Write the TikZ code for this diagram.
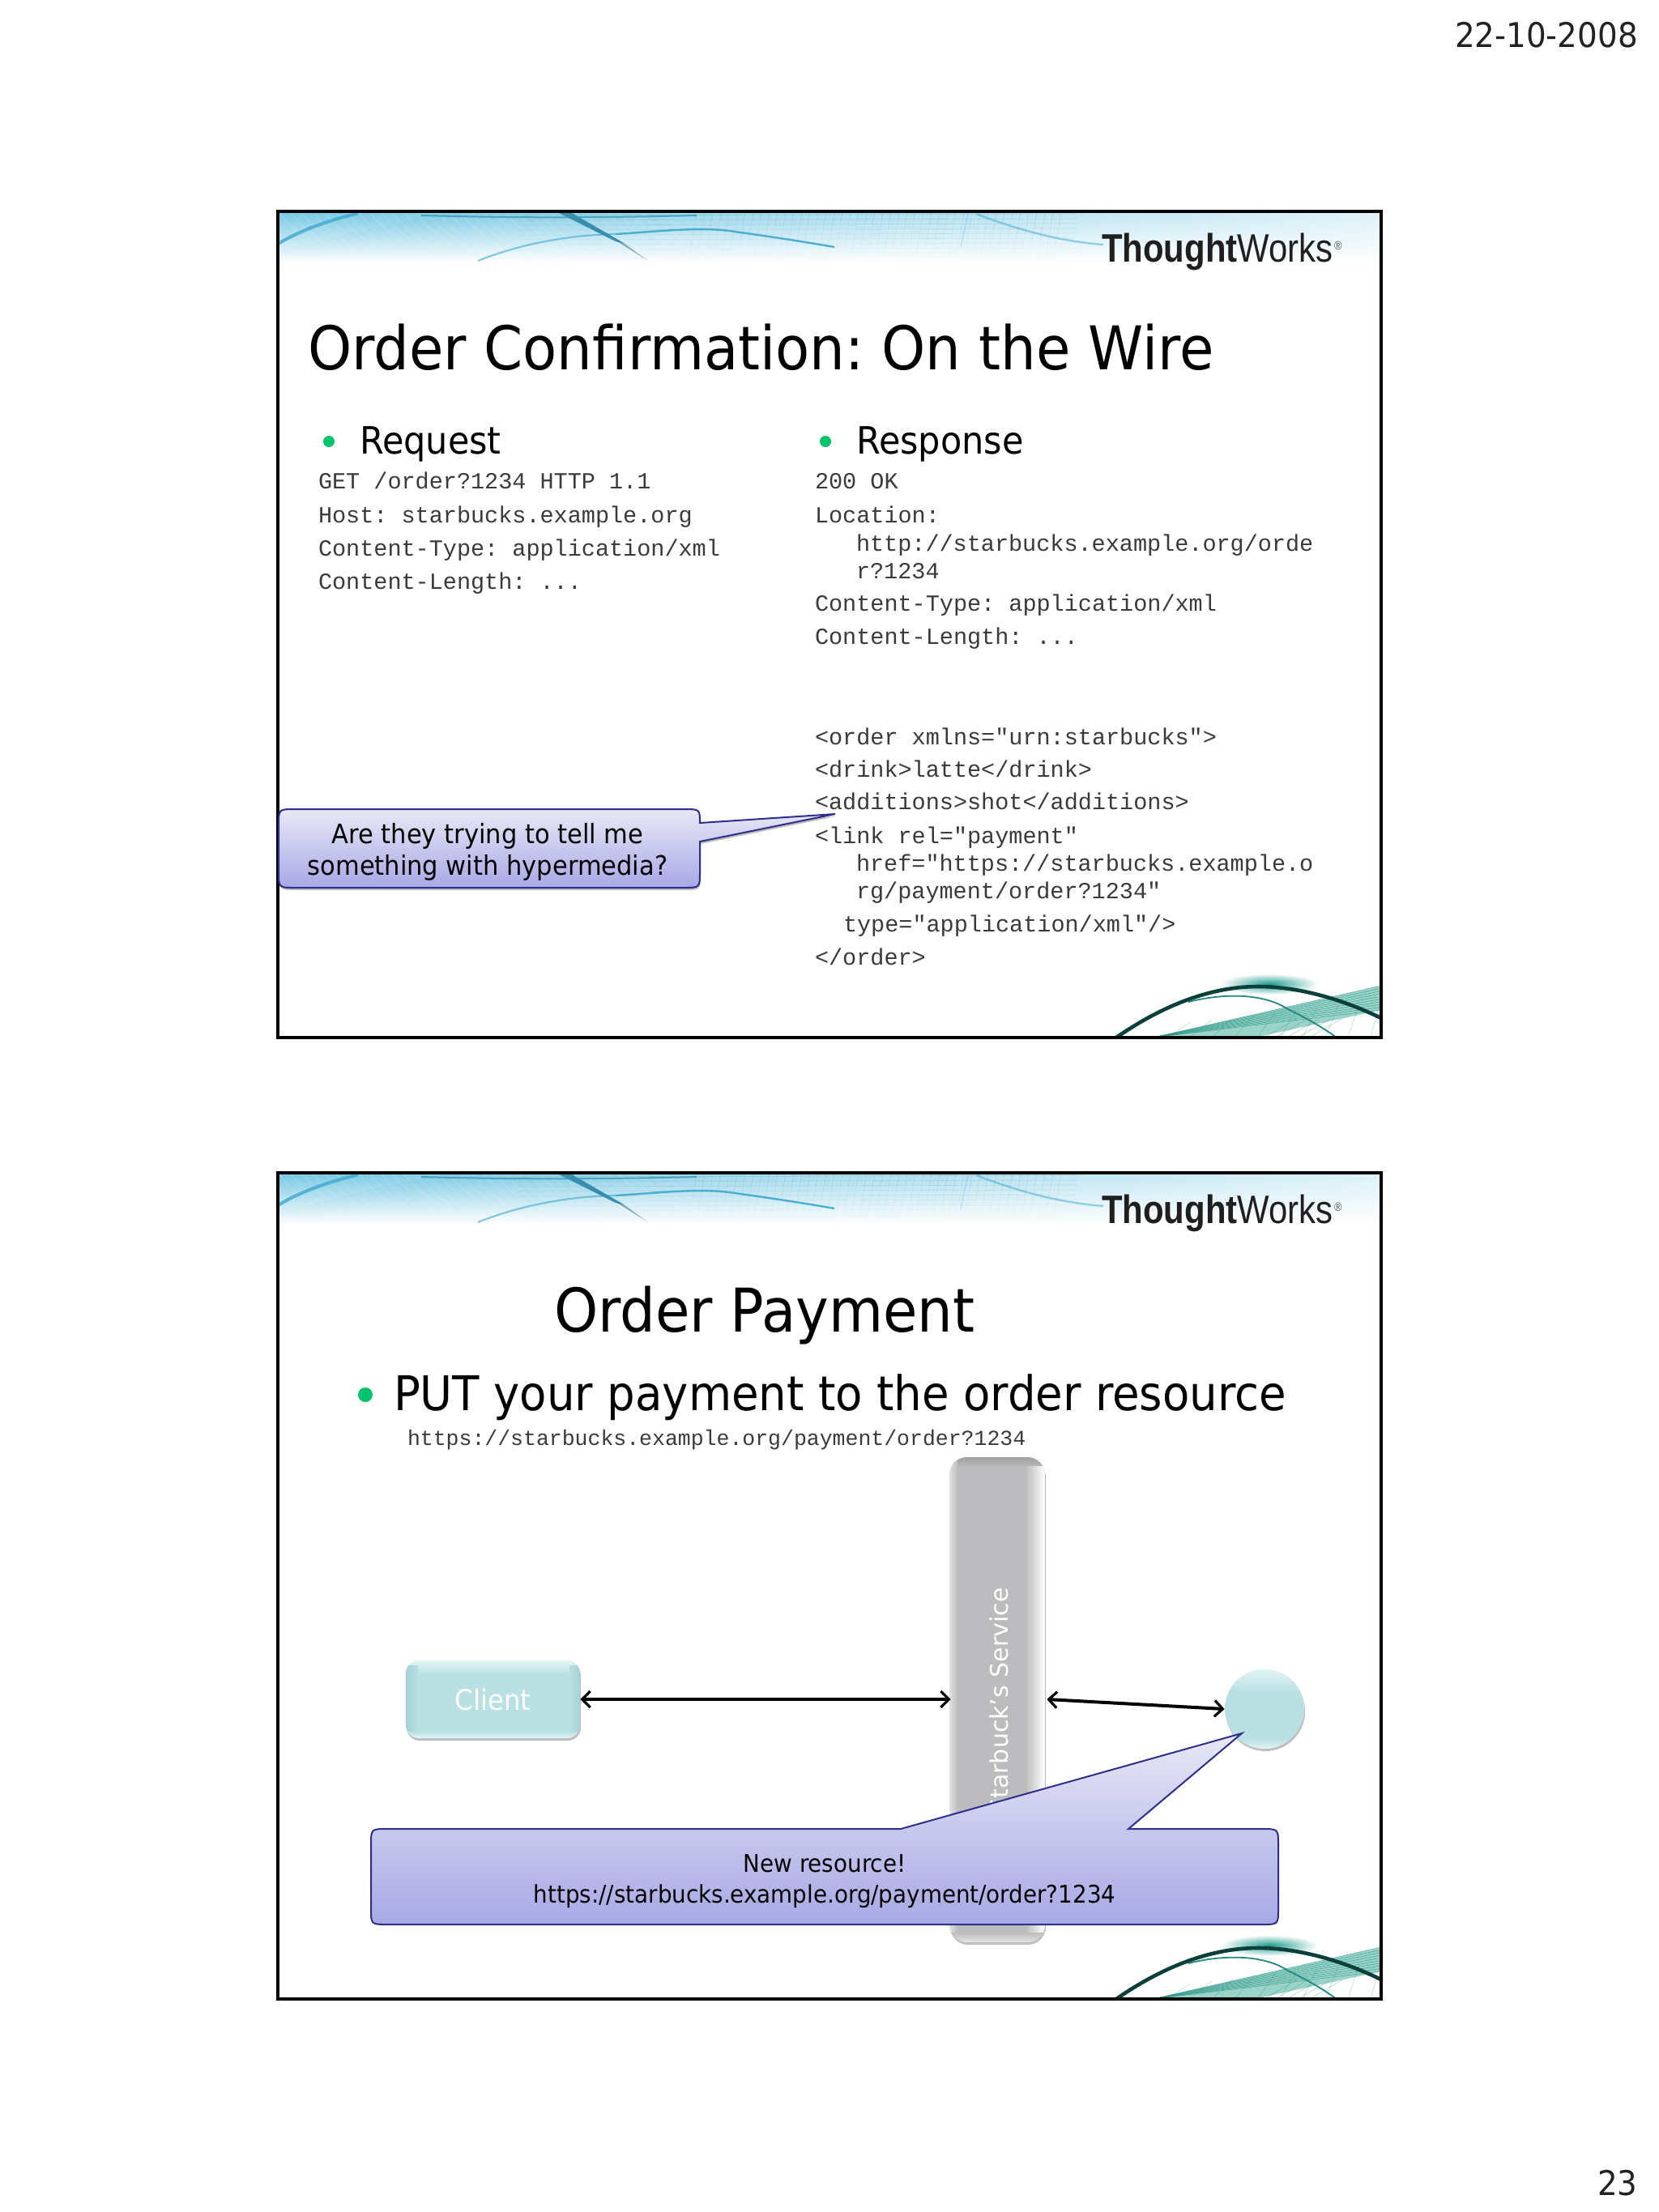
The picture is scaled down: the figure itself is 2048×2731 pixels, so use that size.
\documentclass[tikz,border=0pt]{standalone}
\usepackage{fontspec}
\usetikzlibrary{arrows.meta,shadows}
\newfontfamily\tah[FakeStretch=0.925]{DejaVu Sans}
\newfontfamily\verd{DejaVu Sans}
\newfontfamily\mon{Liberation Mono}
\newfontfamily\logof[FakeStretch=0.855]{Liberation Sans}
\newcommand\fsz[1]{\fontsize{\fpeval{#1*0.5}pt}{\fpeval{#1*0.6}pt}\selectfont}
\AtBeginDocument{\frenchspacing}
\definecolor{calloutline}{HTML}{2E2E8C}
\definecolor{calloutlow}{HTML}{A8A8E6}
\definecolor{callouthigh}{HTML}{E8E8F6}
\definecolor{greenbullet}{HTML}{00C46C}
\definecolor{tealbox}{HTML}{B9E0E3}
\definecolor{tealedge}{HTML}{E4F5F5}
\definecolor{tealdark}{HTML}{A6D2D6}
\definecolor{greybox}{HTML}{BCBCBE}
\definecolor{swoop}{HTML}{0B3F3A}
\definecolor{swoopthin}{HTML}{23897E}
\definecolor{glow}{HTML}{1F9C8E}
\definecolor{bandfill}{HTML}{9AD3C8}
\definecolor{bandline}{HTML}{2A9486}
\definecolor{bannerblue}{HTML}{3FA8CC}
\definecolor{bannersky}{HTML}{7CCBE6}
\definecolor{textcol}{HTML}{222222}
\definecolor{monocol}{HTML}{3A3A3A}
\tikzset{
  line/.style={anchor=base west,inner sep=0pt,outer sep=0pt},
  mono/.style={line,font=\mon\fsz{28.5},text=monocol,yshift=-0.6pt},
  head/.style={line,font=\tah\fsz{74.5},text=black},
  sub/.style={line,font=\tah\fsz{46.5},text=black},
  ctr/.style={anchor=base,inner sep=0pt,outer sep=0pt,text=black,font=\tah\fsz{33}},
  bul/.style={circle,fill=greenbullet,inner sep=0pt,minimum size=7pt},
  frameline/.style={draw=black,line width=2pt},
  callout/.style={draw=calloutline,line width=1pt,top color=callouthigh,bottom color=calloutlow},
  dbl/.style={line width=2pt,{Straight Barb[length=5pt,width=10pt,line width=1.6pt]}-{Straight Barb[length=5pt,width=10pt,line width=1.6pt]}},
  softshadow/.style={drop shadow={shadow xshift=0.5pt,shadow yshift=-1.5pt,opacity=.25,fill=black}}
}
\newcommand\slidedeco[2]{%
\begin{scope}[shift={(0,#1)}]
 \begin{scope}
  \clip (343,261) rectangle (1705,1281);
  \path[left color=bannersky,right color=bannersky!25] (343,262) rectangle (1705,326);
  \path[left color=bannersky!85!bannerblue,right color=bannersky!62] (590,326) .. controls (640,300) and (700,290) .. (760,289) .. controls (850,288) and (960,295) .. (1020,305) -- (1020,262) -- (560,262) .. controls (500,270) and (420,290) .. (345,310) -- (345,326) -- cycle;
  \foreach \k in {0,...,45}{
    \draw[bannerblue!80!black,opacity=.22,line width=.3pt] ({860+\k*10},262) -- ({850+\k*10},320);
  }
  \foreach \k in {0,...,8}{
    \draw[bannerblue!80!black,opacity=.22,line width=.3pt] (640,{266+\k*6}) -- (1330,{264+\k*6});
  }
  \foreach \k in {0,...,34}{
    \draw[white,opacity=.25,line width=.3pt] ({345+\k*14},262) .. controls ({360+\k*14},285) and ({390+\k*14},300) .. ({420+\k*14},330);
  }
  % fade the banner to white downwards
  \foreach \k in {1,...,29}{
    \fill[white,opacity=\k/30] (343,{264+\k*2}) rectangle (1705,{266+\k*2});
  }
  \fill[white] (343,323) rectangle (1705,334);
  \draw[bannerblue,line width=2pt,line cap=round,opacity=.8] (345,300) .. controls (370,285) and (405,272) .. (440,264);
  \draw[bannerblue!90!black,opacity=.8,line width=1pt] (520,266) .. controls (600,268) and (700,270) .. (860,266);
  \draw[bannerblue,opacity=.6,line width=1.1pt] (590,322) .. controls (640,302) and (700,290) .. (760,289);
  \draw[bannerblue,opacity=.9,line width=1.2pt] (760,289) .. controls (810,286) and (860,280) .. (900,285) .. controls (950,292) and (990,298) .. (1030,305);
  \draw[bannerblue,opacity=.5,line width=1.2pt] (1205,264) .. controls (1260,285) and (1310,298) .. (1362,302);
  \draw[bannerblue,opacity=.3,line width=.6pt] (1195,264) -- (1186,305);
  \fill[bannerblue!85!black] (690,263) -- (706,263) -- (770,300) -- (760,298) -- cycle;
  \fill[bannerblue!55!black,opacity=.45] (760,297) -- (770,300) -- (800,322) -- cycle;
  % swoosh
  \path[inner color=glow,outer color=white] (1567,1215) ellipse (60 and 13);
  \fill[bandfill] (1423,1281) -- (1705,1217) -- (1705,1247) -- (1548,1281) -- cycle;
  \foreach \k in {0,...,9}{
    \draw[bandline,opacity=.7,line width=.3pt] (1423,1281) -- (1705,{1217+\k*3.3});
    \draw[bandline,opacity=.35,line width=.3pt] ({1440+\k*28},1281) -- ({1470+\k*26},1262-\k*3);
  }
  \foreach \k in {0,...,4}{
    \draw[bandline,opacity=.4,line width=.3pt] ({1560+\k*14},1281) -- ({1600+\k*14},1258);
  }
  \draw[swoopthin,line width=.9pt] (1467,1237) .. controls (1510,1226) and (1560,1226) .. (1590,1246) .. controls (1615,1258) and (1635,1270) .. (1650,1281);
  \draw[swoop,line width=2.3pt] (1378,1281) .. controls (1430,1245) and (1490,1218) .. (1553,1218) .. controls (1605,1218) and (1660,1235) .. (1705,1257);
 \end{scope}
 \node[line,font=\logof\fsz{49},text=black!88] (logo#2) at (1360,323) {\textbf{Thought}Works};
 \node[line,font=\logof\fsz{15},text=black!70] (reg#2) at (1647,308) {\textregistered};
 \draw[frameline] (343,261) rectangle (1705,1281);
\end{scope}}
\begin{document}
\begin{tikzpicture}[x=0.5pt,y=-0.5pt]
\useasboundingbox (0,0) rectangle (2048,2731);
\fill[white] (0,0) rectangle (2048,2731);
\node[line,font=\tah\fsz{42},text=textcol] (date) at (1796,58) {22-10-2008};
\node[line,font=\tah\fsz{42},text=textcol] (page) at (1972,2710) {23};

% ---------- slide 1
\slidedeco{0}{a}
\node[head] (t1) at (380,456) {Order Confirmation: On the Wire};
\node[bul] (b1) at (406,545) {};
\node[sub] (req) at (444,560) {Request};
\node[bul] (b2) at (1019,545) {};
\node[sub] (res) at (1057,560) {Response};
\node[mono] (l1) at (393,602) {GET /order?1234 HTTP 1.1};
\node[mono] (l2) at (393,644) {Host: starbucks.example.org};
\node[mono] (l3) at (393,685) {Content-Type: application/xml};
\node[mono] (l4) at (393,726) {Content-Length: ...};
\node[mono] (r1) at (1006,602) {200 OK};
\node[mono] (r2) at (1006,644) {Location:};
\node[mono] (r3) at (1057,679) {http://starbucks.example.org/orde};
\node[mono] (r4) at (1057,713) {r?1234};
\node[mono] (r5) at (1006,753) {Content-Type: application/xml};
\node[mono] (r6) at (1006,794) {Content-Length: ...};
\node[mono] (r7) at (1006,918) {<order xmlns="urn:starbucks">};
\node[mono] (r8) at (1006,958) {<drink>latte</drink>};
\node[mono] (r9) at (1006,998) {<additions>shot</additions>};
\node[mono] (r10) at (1006,1040) {<link rel="payment"};
\node[mono] (r11) at (1057,1074) {href="https://starbucks.example.o};
\node[mono] (r12) at (1057,1108) {rg/payment/order?1234"};
\node[mono] (r13) at (1041,1149) {type="application/xml"/>};
\node[mono] (r14) at (1006,1190) {</order>};
% callout 1
\path[callout,softshadow] (344,1019) .. controls (344,999) .. (364,999) -- (844,999) .. controls (864,999) .. (864,1016) -- (1031,1005) -- (864,1039) -- (864,1076) .. controls (864,1096) .. (844,1096) -- (364,1096) .. controls (344,1096) .. (344,1076) -- cycle;
\node[ctr] (c1a) at (602,1041) {Are they trying to tell me};
\node[ctr] (c1b) at (602,1080) {something with hypermedia?};

% ---------- slide 2
\slidedeco{1187}{b}
\node[head] (t2) at (684,1644) {Order Payment};
\node[bul,minimum size=9pt] (b3) at (451,1722) {};
\node[line,font=\tah\fsz{59},text=black] (put) at (486,1741) {PUT your payment to the order resource};
\node[mono,font=\mon\fsz{26.5}] (url) at (503,1783) {https://starbucks.example.org/payment/order?1234};

% service box
\path[fill=greybox,rounded corners=11pt,softshadow] (1172,1799) rectangle (1290,2398);
\begin{scope}
 \clip[rounded corners=11pt] (1172,1799) rectangle (1290,2398);
 \path[top color=greybox!85!black,bottom color=greybox] (1172,1799) rectangle (1290,1812);
 \path[left color=greybox,right color=white] (1266,1810) rectangle (1290,2390);
 \path[left color=greybox!45!white,right color=greybox] (1172,1799) rectangle (1182,2398);
 \path[top color=greybox,bottom color=greybox!40!white] (1172,2386) rectangle (1290,2398);
\end{scope}
\node[minimum width=59pt,minimum height=299.5pt,inner sep=0pt,text=white,font=\verd\fsz{30}] (service) at (1233,2100) {\rotatebox{90}{Starbuck’s Service}};

% client box
\path[fill=tealbox,rounded corners=8pt,softshadow] (501,2050) rectangle (716,2146);
\begin{scope}
 \clip[rounded corners=8pt] (501,2050) rectangle (716,2146);
 \path[top color=tealedge,bottom color=tealbox] (501,2050) rectangle (716,2068);
 \path[left color=tealdark,right color=tealbox] (501,2056) rectangle (516,2142);
 \path[left color=tealbox,right color=tealdark] (703,2056) rectangle (716,2142);
 \path[top color=tealbox,bottom color=tealedge] (501,2138) rectangle (716,2146);
\end{scope}
\node[minimum width=107.5pt,minimum height=48pt,inner sep=0pt,text=white,font=\tah\fsz{35}] (client) at (608.5,2098) {Client};

% resource circle
\path[fill=tealbox,softshadow] (1561,2110) circle (49);
\begin{scope}
 \clip (1561,2110) circle (49);
 \path[top color=tealedge,bottom color=tealbox] (1510,2060) rectangle (1612,2088);
 \path[top color=tealbox,bottom color=tealedge] (1510,2146) rectangle (1612,2160);
\end{scope}
\node[circle,minimum size=49pt,inner sep=0pt] (resource) at (1561,2110) {};

% connectors
\draw[dbl] (client.east) -- (service.west |- client.east);
\draw[dbl] (service.east |- client.east) -- (resource.west);

% callout 2
\path[callout] (458,2278) .. controls (458,2258) .. (478,2258) -- (1112,2258) -- (1533,2140) -- (1393,2258) -- (1558,2258) .. controls (1578,2258) .. (1578,2278) -- (1578,2356) .. controls (1578,2376) .. (1558,2376) -- (478,2376) .. controls (458,2376) .. (458,2356) -- cycle;
\node[ctr,font=\tah\fsz{30}] (c2a) at (1018,2311) {New resource!};
\node[ctr,font=\tah\fsz{30}] (c2b) at (1018,2349) {https://starbucks.example.org/payment/order?1234};
\end{tikzpicture}
\end{document}
